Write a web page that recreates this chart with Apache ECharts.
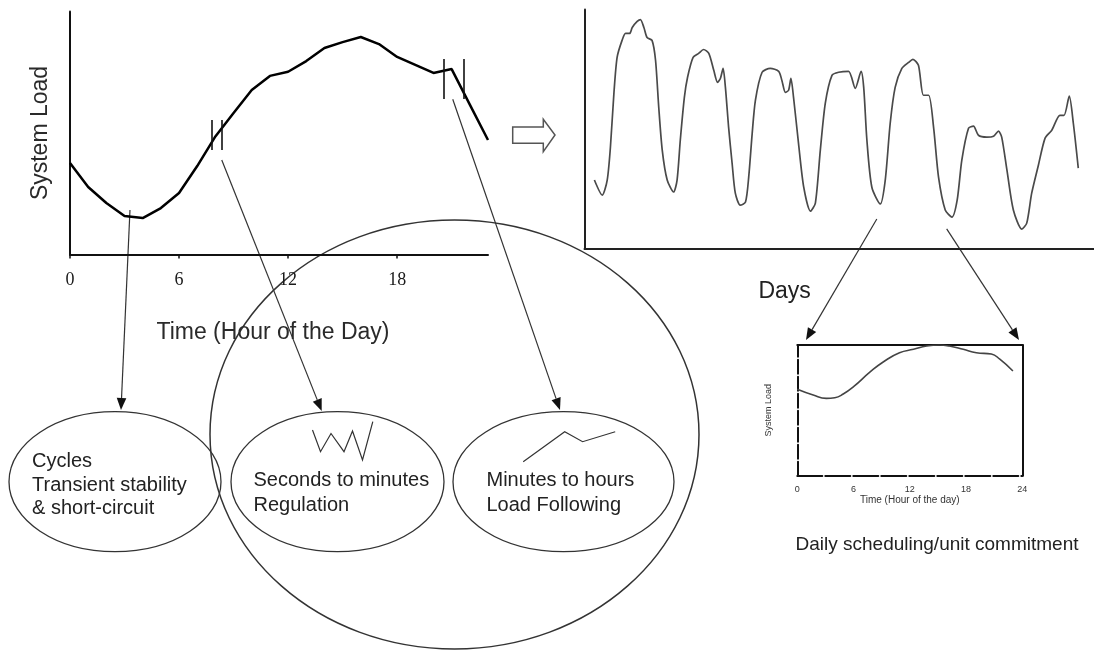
<!DOCTYPE html>
<html><head><meta charset="utf-8">
<script src="https://cdn.jsdelivr.net/npm/echarts@6/dist/echarts.min.js"></script>
<style>html,body{margin:0;padding:0;background:#fff}#c{width:1094px;height:651px}</style>
</head><body><div id="c"></div>
<script>
// ---- Data ----
const dayHours = [0,1,2,3,4,5,6,7,8,9,10,11,12,13,14,15,16,17,18,19,20,21,22,23];
const dayLoad  = [37.7,27.8,21.2,15.8,15.0,19.1,25.3,36.4,48.6,58.2,67.7,73.5,75.2,79.6,85.0,87.4,89.5,86.6,81.3,78.0,74.7,76.3,61.7,47.1];
const dayTicks = [0,6,12,18];

const weekHours = [3.4,6.1,7.8,8.9,10.1,11.2,12.9,14.1,15.5,16.4,
  18.1,19.2,20.4,21.5,23.2,24.4,25.5,26.7,28.4,30.6,
  31.8,32.9,34.3,35.4,37.3,39.2,40.9,42.7,44.4,45.7,
  46.7,47.6,48.4,49.5,50.7,51.8,53.5,55.3,56.4,57.6,
  58.7,61,63.8,66.7,67.8,69,70.1,70.9,71.8,73.5,
  75.3,77.6,79.3,81,82.7,85,87.3,90.7,93,95,
  95.9,97,98.7,101.6,103.3,105,106.7,109,111.3,112.8,
  114.7,116.4,118.2,119.9,121.6,123.9,126.2,128,129.6,131.9,
  133.6,135.3,138.2,140.5,142.2,143.3,145.1,147.3,150.2,151.9,
  153.6,155.9,158.2,160.5,163.3,164.7,166.5,167.9,169.6];
const weekLoad = [28.8,22.5,28.8,42.5,65,80,87.1,90,90,92.5,
  95,95.8,92.5,88.3,87.1,78.8,59.2,41.3,28.8,23.8,
  28.8,45.4,63.3,71.7,80,81.7,83.3,81.7,74.6,69.6,
  71.3,75.4,67.5,50.8,35.8,23.3,18.3,19.6,30,48.3,
  62.1,73.8,75.4,74.2,70.4,65.4,66.3,71.3,63.3,44.2,
  25.8,15.8,19.2,41.3,60.8,72.5,73.8,74.2,67.1,74.2,
  67.5,45.4,25.8,18.8,28.8,52.5,67.5,75.4,77.9,79.2,
  76.7,64.2,64.2,50.8,30,16.3,13.3,20.4,37.1,50.4,
  51.3,47.5,46.7,47.1,49.2,46.7,32.9,16.3,8.3,10.8,
  23.3,35,46.3,49.6,55.8,55.8,63.8,52.5,33.8];

const smallHours = [0,1.7,3.1,4,4.9,6,7.8,9.2,10.9,12.4,13.8,15.2,16.2,17.7,19.1,20.7,21.6,23];
const smallLoad  = [66.1,61.7,59.2,59.7,62.5,68.1,79.6,87.2,94.1,96.7,99.2,100,99.2,96.7,94.1,93.1,89.1,80.1];
const smallTicks = [0,6,12,18,24];

// short "||" cut marks on the daily curve: [hour, fromLoad, toLoad]
const cutMarks = [[7.8,43,55.3],[8.35,43,55.3],[20.55,64,80.5],[21.65,64,80.5]];
// arrow anchors (data coordinates)
const dayArrowFrom  = [[3.3,18.3],[8.35,38.9],[21.06,63.9]];
const weekArrowFrom = [[100.4,12.5],[124.4,8.4]];

const ellipseLabels = [
  ['Cycles','Transient stability','& short-circuit'],
  ['Seconds to minutes','Regulation'],
  ['Minutes to hours','Load Following']
];

// ---- Chart ----
const SANS = 'Liberation Sans';
const SERIF = 'Liberation Serif';
const INK = '#111';
const zip = (a,b) => a.map((v,i)=>[v,b[i]]);

const chart = echarts.init(document.getElementById('c'));
const option = {
  animation:false,
  backgroundColor:'#fff',
  grid:[
    {left:70, top:11.5, width:418, height:243},
    {left:584.5, top:9.5, width:509.5, height:239.5},
    {left:797.3, top:345, width:225, height:130.7}
  ],
  xAxis:[
    {gridIndex:0, type:'value', min:0, max:23, interval:6,
     axisLine:{onZero:false, lineStyle:{color:INK, width:2}},
     axisTick:{show:true, length:4, customValues:dayTicks, lineStyle:{color:INK, width:1.5}},
     axisLabel:{customValues:dayTicks, margin:17, fontFamily:SERIF, fontSize:18, color:'#1a1a1a'},
     splitLine:{show:false},
     name:'Time (Hour of the Day)', nameLocation:'middle', nameGap:67,
     nameTextStyle:{fontFamily:SANS, fontSize:23, color:'#2a2a2a', padding:[0,12,0,0]}},
    {gridIndex:1, type:'value', min:0, max:175,
     axisLine:{onZero:false, lineStyle:{color:'#222', width:2}},
     axisTick:{show:false}, axisLabel:{show:false}, splitLine:{show:false}},
    {gridIndex:2, type:'value', min:0, max:24, interval:6,
     axisLine:{onZero:false, lineStyle:{color:INK, width:2, type:[25,3]}},
     axisTick:{show:false},
     axisLabel:{margin:9, fontFamily:SANS, fontSize:9, color:'#333'},
     splitLine:{show:false},
     name:'Time (Hour of the day)', nameLocation:'middle', nameGap:20,
     nameTextStyle:{fontFamily:SANS, fontSize:10, color:'#333'}},
    {gridIndex:2, type:'value', position:'top', min:0, max:24,
     axisLine:{onZero:false, lineStyle:{color:INK, width:2}},
     axisTick:{show:false}, axisLabel:{show:false}, splitLine:{show:false}}
  ],
  yAxis:[
    {gridIndex:0, type:'value', min:0, max:100,
     axisLine:{show:true, onZero:false, lineStyle:{color:INK, width:2}},
     axisTick:{show:false}, axisLabel:{show:false}, splitLine:{show:false},
     name:'System Load', nameLocation:'middle', nameGap:18,
     nameTextStyle:{fontFamily:SANS, fontSize:23, color:'#2a2a2a'}},
    {gridIndex:1, type:'value', min:0, max:100,
     axisLine:{show:true, onZero:false, lineStyle:{color:'#222', width:2}},
     axisTick:{show:false}, axisLabel:{show:false}, splitLine:{show:false}},
    {gridIndex:2, type:'value', min:0, max:100,
     axisLine:{show:true, onZero:false, lineStyle:{color:INK, width:2, type:[14,3]}},
     axisTick:{show:false}, axisLabel:{show:false}, splitLine:{show:false},
     name:'System Load', nameLocation:'middle', nameGap:24,
     nameTextStyle:{fontFamily:SANS, fontSize:9, color:'#333'}},
    {gridIndex:2, type:'value', position:'right', min:0, max:100,
     axisLine:{show:true, onZero:false, lineStyle:{color:INK, width:2}},
     axisTick:{show:false}, axisLabel:{show:false}, splitLine:{show:false}}
  ],
  series:[
    {type:'line', xAxisIndex:0, yAxisIndex:0, data:zip(dayHours, dayLoad),
     symbol:'none', lineStyle:{color:'#000', width:2.5},
     markLine:{silent:true, symbol:'none', label:{show:false},
       lineStyle:{color:INK, width:1.6, type:'solid'},
       emphasis:{disabled:true},
       data:cutMarks.map(m=>[{coord:[m[0],m[1]]},{coord:[m[0],m[2]]}])}},
    {type:'line', xAxisIndex:1, yAxisIndex:1, data:zip(weekHours, weekLoad),
     symbol:'none', smooth:0.25, lineStyle:{color:'#4a4a4a', width:1.7}},
    {type:'line', xAxisIndex:2, yAxisIndex:2, data:zip(smallHours, smallLoad),
     symbol:'none', smooth:true, lineStyle:{color:'#444', width:1.6}}
  ]
};
chart.setOption(option);

// ---- Annotations ----
const P = (g, p) => chart.convertToPixel({gridIndex:g}, p);
function arrow(from, to){
  const dx = to[0]-from[0], dy = to[1]-from[1], L = Math.hypot(dx,dy);
  const ux = dx/L, uy = dy/L, hl = 12, hw = 4.8;
  const bx = to[0]-ux*hl, by = to[1]-uy*hl;
  return [
    {type:'line', silent:true, shape:{x1:from[0],y1:from[1],x2:bx,y2:by}, style:{stroke:'#333', lineWidth:1.2}},
    {type:'polygon', silent:true, shape:{points:[[to[0],to[1]],[bx-uy*hw,by+ux*hw],[bx+uy*hw,by-ux*hw]]}, style:{fill:'#111'}}
  ];
}
function ell(cx,cy,rx,ry,w){
  return {type:'ellipse', silent:true, shape:{cx,cy,rx,ry}, style:{fill:'none', stroke:'#333', lineWidth:w}};
}
function txt(x,y,t,size,align){
  return {type:'text', silent:true, x, y, style:{text:t, fontFamily:SANS, fontSize:size, fill:'#222',
    textAlign:align||'left', align:align||'left', textVerticalAlign:'middle', verticalAlign:'middle'}};
}
const g = [];
g.push(ell(454.5,434.5,244.5,214.5,1.5));
g.push(ell(115,481.7,106,70,1.3));
g.push(ell(337.5,481.7,106.5,70,1.3));
g.push(ell(563.5,481.7,110.5,70,1.3));
const lineYs = [[461.7,485.5,508.5],[480,505],[480,505]];
const lineXs = [32,253.5,486.5];
ellipseLabels.forEach((lines,i)=>lines.forEach((t,j)=>g.push(txt(lineXs[i], lineYs[i][j], t, 20))));
g.push({type:'polyline', silent:true, shape:{points:[[312.5,430],[320.5,451.7],[331,433.5],[344,451.7],[352.5,431],[362.5,460],[372.8,421.7]]},
  style:{fill:'none', stroke:'#333', lineWidth:1.2}});
g.push({type:'polyline', silent:true, shape:{points:[[523.2,461.7],[564.7,431.7],[582.6,441.7],[615.2,431.7]]},
  style:{fill:'none', stroke:'#333', lineWidth:1.2}});
g.push({type:'polygon', silent:true, shape:{points:[[512.7,127],[543.3,127],[543.3,119.3],[555,135],[543.3,151.7],[543.3,143.3],[512.7,143.3]]},
  style:{fill:'#fff', stroke:'#555', lineWidth:1.5}});
g.push(txt(784.6,292,'Days',23,'center'));
g.push(txt(937,545,'Daily scheduling/unit commitment',19,'center'));
const dayTargets = [[121,410],[321.7,411],[560,410]];
dayArrowFrom.forEach((p,i)=>g.push(...arrow(P(0,p), dayTargets[i])));
const weekTargets = [[806,340],[1019,340]];
weekArrowFrom.forEach((p,i)=>g.push(...arrow(P(1,p), weekTargets[i])));
chart.setOption({graphic:{elements:g}});
</script></body></html>
